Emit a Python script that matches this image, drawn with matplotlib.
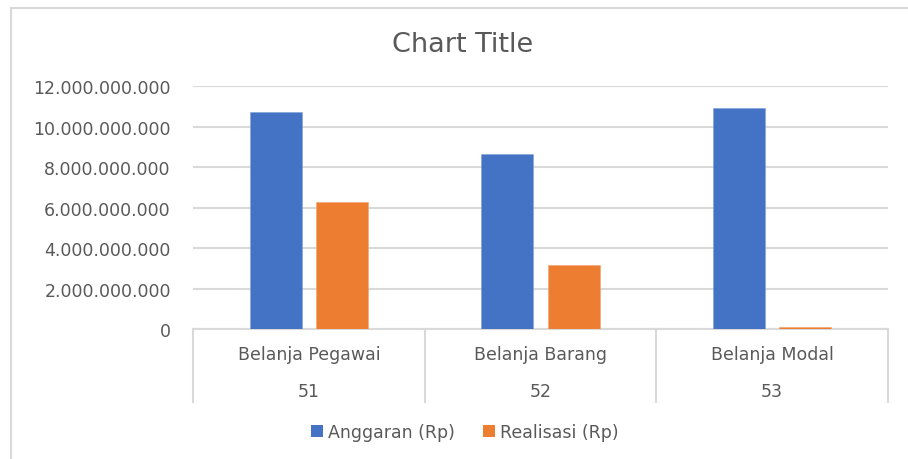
import matplotlib
matplotlib.use("Agg")
import matplotlib.pyplot as plt
from matplotlib.lines import Line2D
from matplotlib.patches import Patch

categories = ["Belanja Pegawai", "Belanja Barang", "Belanja Modal"]
codes = ["51", "52", "53"]
anggaran = [10.72e9, 8.65e9, 10.91e9]
realisasi = [6.27e9, 3.17e9, 0.12e9]
series_names = ["Anggaran (Rp)", "Realisasi (Rp)"]
yticks = [0, 2e9, 4e9, 6e9, 8e9, 10e9, 12e9]

BLUE = "#4472C4"
ORANGE = "#ED7D31"
GRID = "#D9D9D9"
TXT = "#595959"

plt.rcParams["font.family"] = ["DejaVu Sans"]

W, H = 908, 460
fig = plt.figure(figsize=(W / 100, H / 100), dpi=100)
fig.patch.set_facecolor("white")

# chart frame (left and top edges visible)
fig.add_artist(Line2D([11 / W, 11 / W], [0, 1 - 9 / H], color=GRID, lw=1.5, transform=fig.transFigure))
fig.add_artist(Line2D([11 / W, 1], [1 - 9 / H, 1 - 9 / H], color=GRID, lw=1.5, transform=fig.transFigure))

left, right, bottom, top = 193 / W, 888 / W, (H - 330) / H, (H - 87.3) / H
ax = fig.add_axes([left, bottom, right - left, top - bottom])

x = list(range(len(categories)))
off = 0.143
bw = 0.224
ax.bar([i - off for i in x], anggaran, width=bw, color=BLUE, edgecolor="#7F9FD8", linewidth=0.4, zorder=3)
ax.bar([i + off for i in x], realisasi, width=bw, color=ORANGE, edgecolor="#F2A56E", linewidth=0.4, zorder=3)

ax.set_xlim(-0.5, 2.5)
ax.set_ylim(0, 12e9)
ax.set_yticks(yticks)
ax.set_yticklabels(["0" if v == 0 else f"{int(v):,}".replace(",", ".") for v in yticks])
ax.tick_params(axis="y", length=0, pad=16, labelsize=12.5, labelcolor=TXT)
ax.set_xticks([])
ax.grid(axis="y", color=GRID, lw=1.5, zorder=0)
for s in ax.spines.values():
    s.set_visible(False)

# category axis (two levels)
axis_h = (403 - 330) / (330 - 87.3)
trans = ax.get_xaxis_transform()
ax.plot([-0.5, 2.5], [0, 0], color=GRID, lw=1.5, transform=trans, clip_on=False, zorder=2)
for xs in [-0.5, 0.5, 1.5, 2.5]:
    ax.plot([xs, xs], [0, -axis_h], color=GRID, lw=1.5, transform=trans, clip_on=False)
y1 = -(355 - 330) / (330 - 87.3)
y2 = -(392 - 330) / (330 - 87.3)
for i, (c, k) in enumerate(zip(categories, codes)):
    ax.text(i, y1, c, transform=trans, ha="center", va="center", fontsize=12.5, color=TXT)
    ax.text(i, y2, k, transform=trans, ha="center", va="center", fontsize=12.5, color=TXT)

fig.text(463 / W, 1 - 45 / H, "Chart Title", ha="center", va="center", fontsize=19.5, color=TXT)

handles = [Patch(facecolor=BLUE), Patch(facecolor=ORANGE)]
fig.legend(handles, series_names, loc="center", bbox_to_anchor=(465 / W, 1 - 433 / H), ncol=2,
           frameon=False, fontsize=12.5, labelcolor=TXT, handlelength=0.7, handleheight=0.7,
           handletextpad=0.3, columnspacing=1.6)

fig.savefig("out.png", dpi=100, facecolor="white")
